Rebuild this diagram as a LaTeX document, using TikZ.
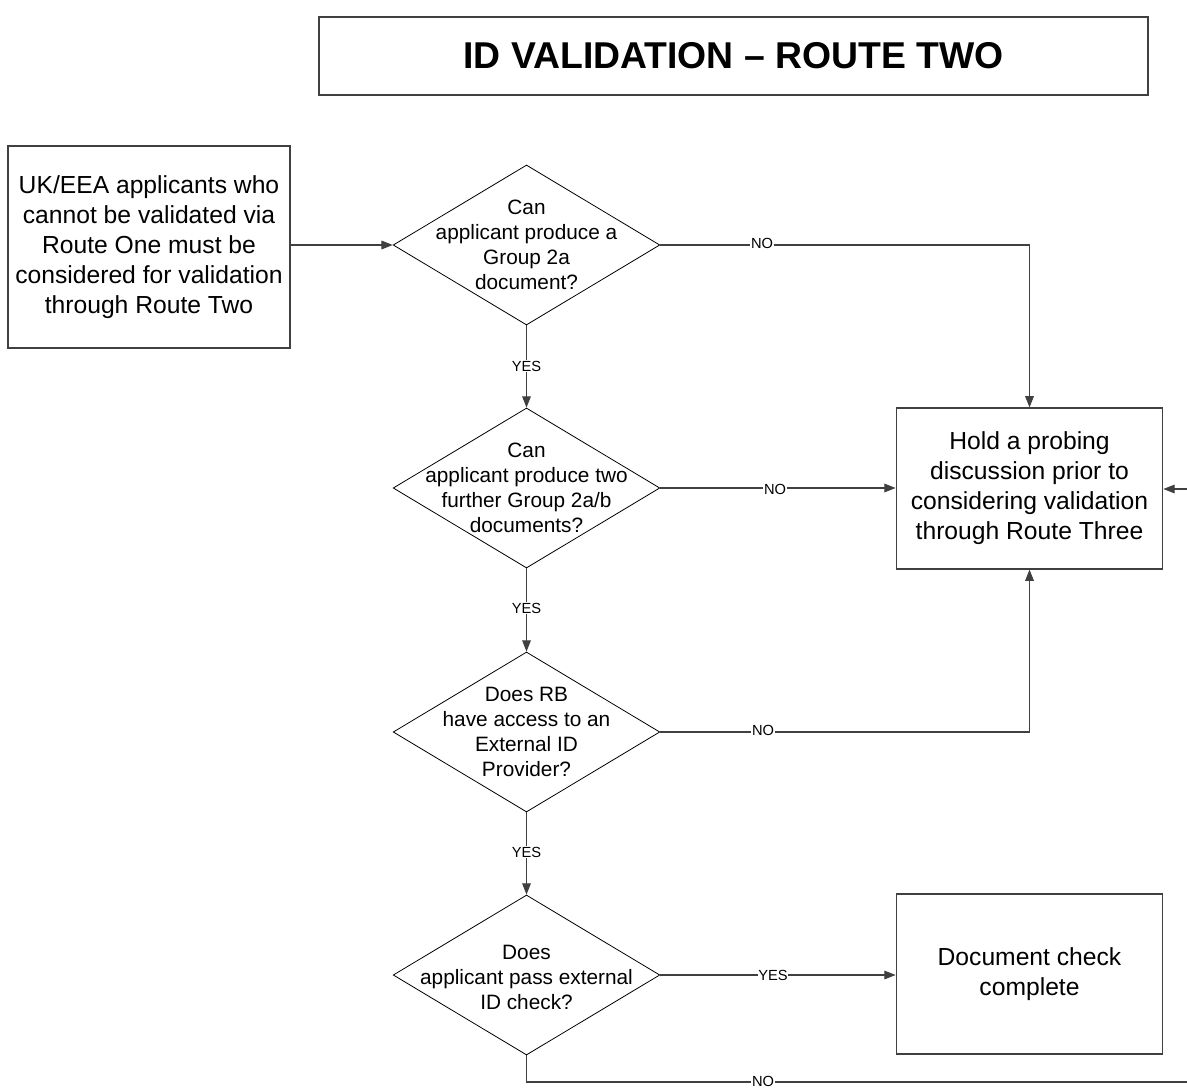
\documentclass[tikz,border=0pt]{standalone}
\usepackage{fontspec}
\setmainfont{Liberation Sans}
\usetikzlibrary{shapes.geometric,arrows.meta}
\begin{document}
\begin{tikzpicture}[x=0.75pt,y=-0.75pt,
  box/.style={draw=black!75,line width=0.8pt,rectangle,inner sep=0pt,align=center,
    font=\fontsize{18.5pt}{22.5pt}\selectfont},
  dia/.style={draw=black,line width=0.6pt,diamond,inner sep=0pt,minimum width=200pt,minimum height=120pt},
  dtext/.style={align=center,font=\fontsize{15.6pt}{18.6pt}\selectfont,inner sep=0pt},
  conn/.style={draw=black!75,line width=0.8pt},
  arr/.style={conn,-{Triangle[length=8.5pt,width=6.5pt]}},
  lbl/.style={fill=white,inner sep=0.5pt,font=\fontsize{11pt}{13pt}\selectfont}
]
\useasboundingbox (0,0) rectangle (1187,1088);
\clip (0,0) rectangle (1187,1088);
\fill[white] (0,0) rectangle (1187,1088);

% title
\node[box,minimum width=621.75pt,minimum height=58.5pt,font=\fontsize{28pt}{32pt}\selectfont\bfseries] (title) at (733.5,56) {ID VALIDATION – ROUTE TWO};

% boxes
\node[box,minimum width=211.5pt,minimum height=151.5pt] (start) at (149,247)
  {UK/EEA applicants who\\cannot be validated via\\Route One must be\\considered for validation\\through Route Two};
\node[box,minimum width=200pt,minimum height=120.75pt] (hold) at (1029.5,488.5)
  {Hold a probing\\discussion prior to\\considering validation\\through Route Three};
\node[box,minimum width=200pt,minimum height=120pt] (done) at (1029.5,974)
  {Document check\\complete};

% diamonds
\node[dia] (d1) at (526.5,245) {};
\node[dtext] (t1) at (d1) {Can\\applicant produce a\\Group 2a\\document?};
\node[dia] (d2) at (526.5,488) {};
\node[dtext] (t2) at (d2) {Can\\applicant produce two\\further Group 2a/b\\documents?};
\node[dia] (d3) at (526.5,732) {};
\node[dtext] (t3) at (d3) {Does RB\\have access to an\\External ID\\Provider?};
\node[dia] (d4) at (526.5,975) {};
\node[dtext] (t4) at ([yshift=-2pt]d4) {Does\\applicant pass external\\ID check?};

% helper coordinates
\coordinate (k1) at (1029.5,245);
\coordinate (k3) at (1029.5,732);
\coordinate (k4) at (526.5,1082);
\coordinate (k5) at (1200,1082);
\coordinate (k6) at (1200,489);

% connectors
\draw[arr] (start.east |- d1) -- (d1.west);
\draw[arr] (d1.east) -- (k1) -- (hold.north);
\draw[arr] (d1.south) -- (d2.north);
\draw[arr] (d2.east) -- (hold.west |- d2);
\draw[arr] (d2.south) -- (d3.north);
\draw[arr] (d3.east) -- (k3) -- (hold.south);
\draw[arr] (d3.south) -- (d4.north);
\draw[arr] (d4.east) -- (done.west |- d4);
\draw[arr] (d4.south) -- (k4) -- (k5) -- (k6) -- (hold.east |- k6);

% labels
\node[lbl] (n1) at (762,243) {NO};
\node[lbl] (y1) at (526.5,366) {YES};
\node[lbl] (n2) at (775,489) {NO};
\node[lbl] (y2) at (526.5,608) {YES};
\node[lbl] (n3) at (763,730) {NO};
\node[lbl] (y3) at (526.5,852) {YES};
\node[lbl] (y4) at (773,975) {YES};
\node[lbl] (n4) at (763,1081) {NO};
\end{tikzpicture}
\end{document}
